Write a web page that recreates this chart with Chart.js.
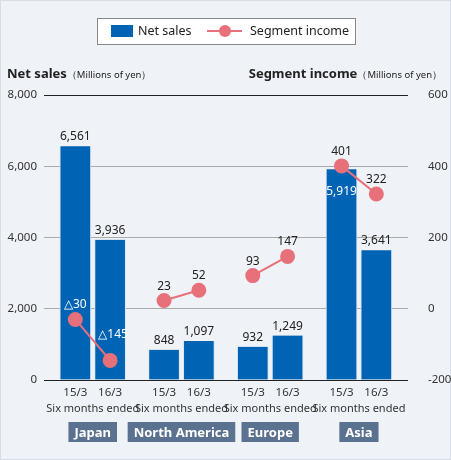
<!DOCTYPE html>
<html><head><meta charset="utf-8">
<script src="https://cdn.jsdelivr.net/npm/chart.js@4"></script>
<style>html,body{margin:0;padding:0;background:#fff}#w{width:451px;height:460px;position:relative}</style>
</head><body><div id="w"><canvas id="c" width="451" height="460"></canvas></div>
<script>
const regions = ['Japan','North America','Europe','Asia'];
const periods = ['15/3','16/3'];
const netSales = [6561,3936,848,1097,932,1249,5919,3641];
const segmentIncome = [-30,-145,23,52,93,147,401,322];
const leftTicks = [0,2000,4000,6000,8000];
const rightTicks = [-200,0,200,400,600];

const GAP = 2.55;
const xs = netSales.map((v,i)=>Math.floor(i/2)*GAP + (i%2));
const fmt = v => v.toLocaleString('en-US');
const incomeLabel = v => v<0 ? '\u25B3'+Math.abs(v) : String(v);
const FONT = '"Noto Sans", "Open Sans", sans-serif';

const lineSets = regions.map((r,g)=>({
  type:'line', label: g===0?'Segment income':'_'+r, yAxisID:'y1',
  data:[0,1].map(s=>({x:xs[g*2+s], y:segmentIncome[g*2+s]})),
  borderColor:'#e8707a', backgroundColor:'#e8707a', borderWidth:2,
  pointRadius:6.5, pointHoverRadius:6.5, order:0
}));

const plugin = {
  id:'deco',
  beforeDraw(ch){
    const c=ch.ctx; c.save();
    c.fillStyle='#eff2f6'; c.fillRect(0,0,451,460);
    c.strokeStyle='#d8dde3'; c.strokeRect(0.5,0.5,450,459);
    c.restore();
  },
  afterDraw(ch){
    const c=ch.ctx, xS=ch.scales.x, yS=ch.scales.y, y1=ch.scales.y1;
    c.save();
    // legend
    c.fillStyle='#fff'; c.fillRect(97,18,258,26);
    c.strokeStyle='#888'; c.lineWidth=1; c.strokeRect(97.5,18.5,258,26);
    c.fillStyle='#0063b4'; c.fillRect(111,25,22,12);
    c.font='12.5px '+FONT; c.fillStyle='#222'; c.textBaseline='middle'; c.textAlign='left';
    c.fillText('Net sales',138,31);
    c.strokeStyle='#e8707a'; c.lineWidth=2; c.beginPath(); c.moveTo(207,31); c.lineTo(242,31); c.stroke();
    c.fillStyle='#e8707a'; c.beginPath(); c.arc(225,31,6,0,Math.PI*2); c.fill();
    c.fillStyle='#222'; c.fillText('Segment income',250,31);
    // axis titles
    c.font='bold 13px '+FONT; c.textBaseline='alphabetic';
    c.fillText('Net sales',7,78);
    let w=c.measureText('Net sales').width;
    c.font='9.5px '+FONT; c.fillText('\uFF08Millions of yen\uFF09',7+w,78);
    c.font='9.5px '+FONT; const t2='\uFF08Millions of yen\uFF09'; let w2=c.measureText(t2).width;
    c.textAlign='right'; c.fillText(t2,442,78);
    c.font='bold 13px '+FONT; c.fillText('Segment income',442-w2,78);
    // bar labels
    c.font='12px '+FONT; c.textAlign='center';
    netSales.forEach((v,i)=>{
      const px=xS.getPixelForValue(xs[i]), py=yS.getPixelForValue(v);
      if(i===6){ c.fillStyle='#fff'; c.fillText(fmt(v),px,py+26); }
      else { c.fillStyle='#222'; c.fillText(fmt(v),px,py-6); }
    });
    // income labels
    segmentIncome.forEach((v,i)=>{
      const px=xS.getPixelForValue(xs[i]), py=y1.getPixelForValue(v);
      const inBar = v<0;
      c.fillStyle= inBar?'#fff':'#222';
      c.fillText(incomeLabel(v), px+(i===1?3:0), py-(i===1?22:11));
    });
    // x sub labels
    c.font='11px '+FONT; c.fillStyle='#333';
    regions.forEach((r,g)=>{
      const cx=(xS.getPixelForValue(xs[g*2])+xS.getPixelForValue(xs[g*2+1]))/2;
      c.fillText('Six months ended',cx,412);
      c.font='bold 13px '+FONT;
      const tw=c.measureText(r).width+12;
      c.fillStyle='#5b7190'; c.fillRect(cx-tw/2,422,tw,20);
      c.fillStyle='#fff'; c.fillText(r,cx,437);
      c.font='11px '+FONT; c.fillStyle='#333';
    });
    c.restore();
  }
};

new Chart(document.getElementById('c'),{
  data:{datasets:[
    {type:'bar', label:'Net sales', yAxisID:'y',
     data:netSales.map((v,i)=>({x:xs[i],y:v})),
     backgroundColor:'#0063b4', borderColor:'#d6e6f5', borderWidth:{top:0,left:1,right:1,bottom:0},
     barThickness:31, order:1},
    ...lineSets
  ]},
  options:{
    responsive:false, animation:false, devicePixelRatio:1,
    layout:{padding:{top:95,left:0,right:0,bottom:0}},
    plugins:{legend:{display:false}, tooltip:{enabled:false}},
    scales:{
      x:{type:'linear', min:-0.9, max:3*GAP+1.91, offset:false,
         afterBuildTicks(s){ s.ticks = xs.map(v=>({value:v})); },
         afterFit(s){ s.height=80; },
         grid:{display:false, drawTicks:false}, border:{display:false},
         ticks:{autoSkip:false, maxRotation:0, padding:6, color:'#333', font:{size:11.5,family:FONT},
           callback:(v,i)=>periods[i%2]}},
      y:{position:'left', min:0, max:8000,
         afterBuildTicks(s){ s.ticks = leftTicks.map(v=>({value:v})); },
         afterFit(s){ s.width=44; },
         grid:{color:c=>(c.tick&&(c.tick.value===0||c.tick.value===8000))?'#222':'#aaa', drawTicks:false, lineWidth:1},
         border:{display:false},
         ticks:{padding:7, color:'#333', font:{size:11.5,family:FONT}, callback:v=>fmt(v)}},
      y1:{position:'right', min:-200, max:600,
         afterBuildTicks(s){ s.ticks = rightTicks.map(v=>({value:v})); },
         afterFit(s){ s.width=43; },
         grid:{display:false}, border:{display:false},
         ticks:{padding:12, color:'#333', font:{size:11.5,family:FONT}}}
    }
  },
  plugins:[plugin]
});
</script></body></html>
